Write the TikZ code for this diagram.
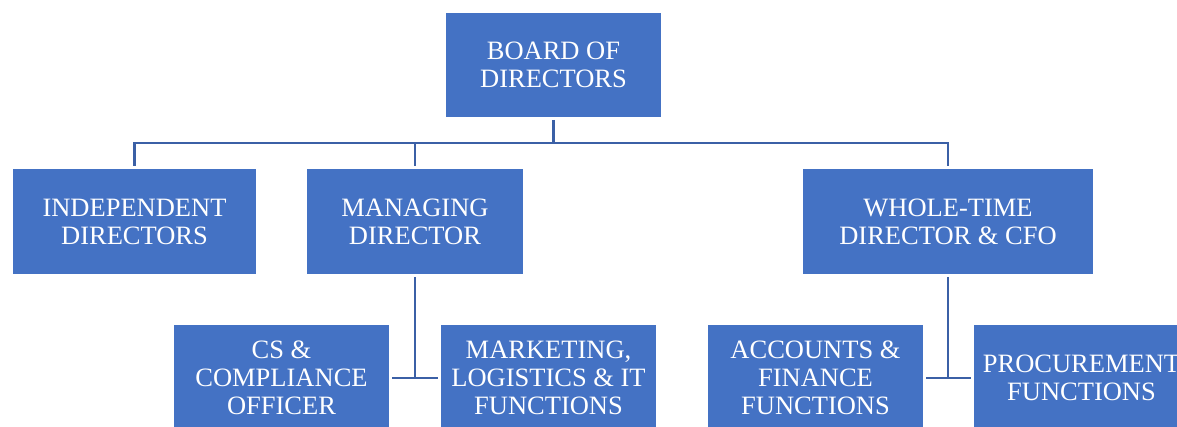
\documentclass[tikz,border=0pt]{standalone}
\usepackage{fontspec}
\setmainfont{Liberation Serif}
\definecolor{boxblue}{HTML}{4472C4}
\definecolor{lineblue}{HTML}{3B60A6}
\tikzset{
  unit/.style={rectangle, fill=boxblue, draw=white, line width=1.2pt, inner sep=0pt,
    outer sep=2pt, minimum width=217pt, minimum height=107pt, align=center,
    text=white, font=\fontsize{26.5pt}{28pt}\selectfont},
  link/.style={draw=lineblue, line width=2.7pt}
}
\begin{document}
\begin{tikzpicture}[x=1pt,y=-1pt]
          \useasboundingbox (0,0) rectangle (1177,427);
          \clip (0,0) rectangle (1177,427);
          \node[unit, minimum height=106pt] (board) at (553.5,65) {BOARD OF\\DIRECTORS};
          \node[unit, minimum width=245pt] (indep) at (134.5,221.5) {INDEPENDENT\\DIRECTORS};
          \node[unit] (mgr) at (415,221.5) {MANAGING\\DIRECTOR};
          \node[unit, minimum width=292pt] (wtd) at (948,221.5) {WHOLE-TIME\\DIRECTOR \& CFO};
          \node[unit] (cs) at (281.5,378) {CS \&\\COMPLIANCE\\OFFICER};
          \node[unit] (mkt) at (548.5,378) {MARKETING,\\LOGISTICS \& IT\\FUNCTIONS};
          \node[unit] (acc) at (815.5,378) {ACCOUNTS \&\\FINANCE\\FUNCTIONS};
          \node[unit] (proc) at (1081.5,378) {PROCUREMENT\\FUNCTIONS};

          \coordinate (bus) at (553.5,143);
          \coordinate (mgrjoin) at (415,378);
          \coordinate (wtdjoin) at (948,378);

          \draw [link] (board.south) -- (bus);
          \draw [link] (indep.north) |- (bus) -| (wtd.north);
          \draw [link] (bus -| mgr.north) -- (mgr.north);

          \draw [link] (mgr.south) -- (mgrjoin);
          \draw [link] (cs.east) -- (mkt.west);
          \draw [link] (wtd.south) -- (wtdjoin);
          \draw [link] (acc.east) -- (proc.west);
\end{tikzpicture}
\end{document}
